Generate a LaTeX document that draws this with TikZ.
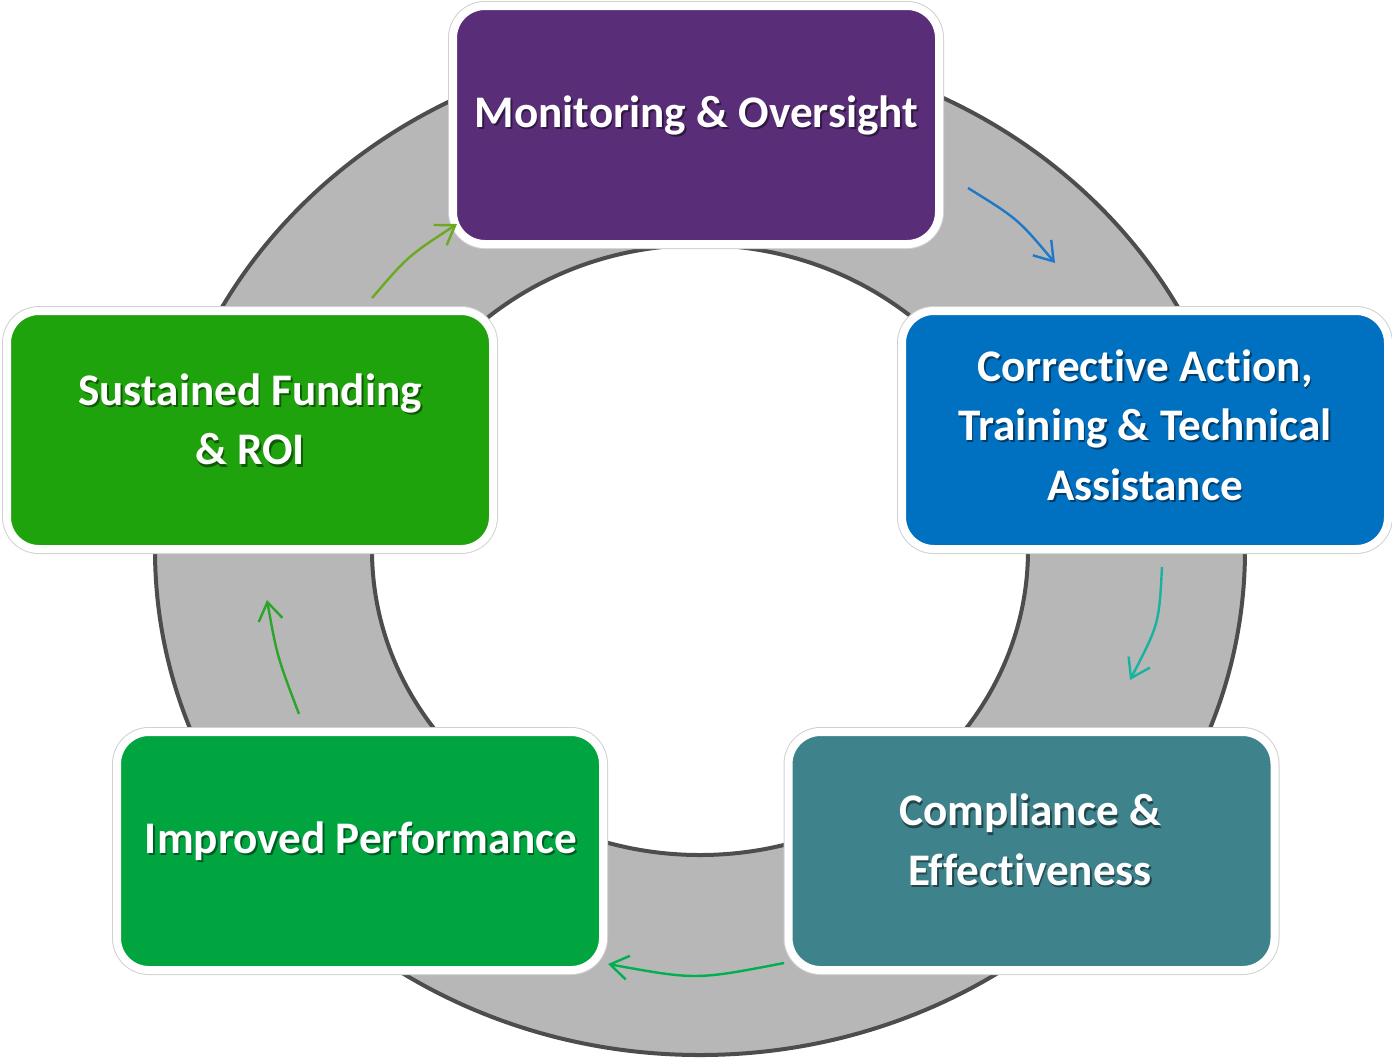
\documentclass[tikz,border=0pt]{standalone}
\usepackage{fontspec}
\setmainfont{Carlito}[Ligatures={NoCommon,NoContextual,NoRare},RawFeature={-liga;-clig;-calt;-dlig}]
\usetikzlibrary{arrows.meta}
\definecolor{ringfill}{HTML}{B7B7B7}
\definecolor{ringline}{HTML}{4D4D4D}
\definecolor{cpurple}{HTML}{5A2D78}
\definecolor{cblue}{HTML}{0070C0}
\definecolor{cteal}{HTML}{3E838C}
\definecolor{cgreenA}{HTML}{00A540}
\definecolor{cgreenB}{HTML}{1FA30D}
\definecolor{aolive}{HTML}{6BAA1F}
\definecolor{ablue}{HTML}{1F78C8}
\definecolor{ateal}{HTML}{17B3A0}
\definecolor{agreen}{HTML}{00B050}
\definecolor{agreenB}{HTML}{2AA52A}
\newcommand\cardtext[4]{%
  \node[lblsh, anchor=#3] at (#2) {#4};
  \node[lbl, anchor=#3] (#1) at (#2) {#4};}
\begin{document}
\begin{tikzpicture}[x=0.5pt,y=-0.5pt,
  card/.style={rectangle, rounded corners=16pt, minimum width=243pt,
    minimum height=119pt, inner sep=0pt, fill=#1, draw=white, line width=4pt,
    preaction={draw=black!18, line width=5pt}},
  lbl/.style={text=white, font=\fontsize{22.6}{29.75}\selectfont\bfseries,
    align=center, inner sep=0pt},
  lblsh/.style={lbl, text=black, opacity=0.45, xshift=0.9pt, yshift=-1.1pt},
  flow/.style={line width=1.2pt, -{Straight Barb[length=9pt,width=12pt]}},
]
\useasboundingbox (0,0) rectangle (1392,1062);
% ring
\fill[ringfill, even odd rule]
  (700,550) ellipse [x radius=272.5pt, y radius=252.5pt]
  (700,550) ellipse [x radius=164pt, y radius=152.5pt];
\draw[ringline, line width=2pt] (700,550) ellipse [x radius=272.5pt, y radius=252.5pt];
\draw[ringline, line width=2pt] (700,550) ellipse [x radius=164pt, y radius=152.5pt];
% cards
\node[card=cpurple] (mon) at (696,125) {};
\node[card=cblue] (cor) at (1145,430) {};
\node[card=cteal] (com) at (1031.5,851) {};
\node[card=cgreenA] (imp) at (360,851) {};
\node[card=cgreenB] (sus) at (250,430) {};
% labels
\cardtext{mon-t}{696.5,127}{base}{Monitoring \& Oversight}
\cardtext{cor-t}{1145,425}{center}{Corrective Action,\\Training \& Technical\\Assistance}
\cardtext{com-t}{1030,840}{center}{Compliance \&\\Effectiveness}
\cardtext{imp-t}{361,853}{base}{Improved Performance}
\cardtext{sus-t}{250,419.5}{center}{Sustained Funding\\\& ROI}
% flow arrows
\coordinate (a1s) at (372,298);  \coordinate (a1e) at (457,224);
\coordinate (a2s) at (968,188);  \coordinate (a2e) at (1055,263);
\coordinate (a3s) at (1162,567); \coordinate (a3e) at (1130,680);
\coordinate (a4s) at (784,963);  \coordinate (a4e) at (608,964);
\coordinate (a5s) at (299,714);  \coordinate (a5e) at (267,600);
\draw[flow, aolive] (a1s) .. controls (408,256) .. (a1e);
\draw[flow, ablue] (a2s) .. controls (1018,219) .. (a2e);
\draw[flow, ateal] (a3s) .. controls (1159,624) .. (a3e);
\draw[flow, agreen] (a4s) .. controls (696,980) .. (a4e);
\draw[flow, agreenB] (a5s) .. controls (277,656) .. (a5e);
\end{tikzpicture}
\end{document}
